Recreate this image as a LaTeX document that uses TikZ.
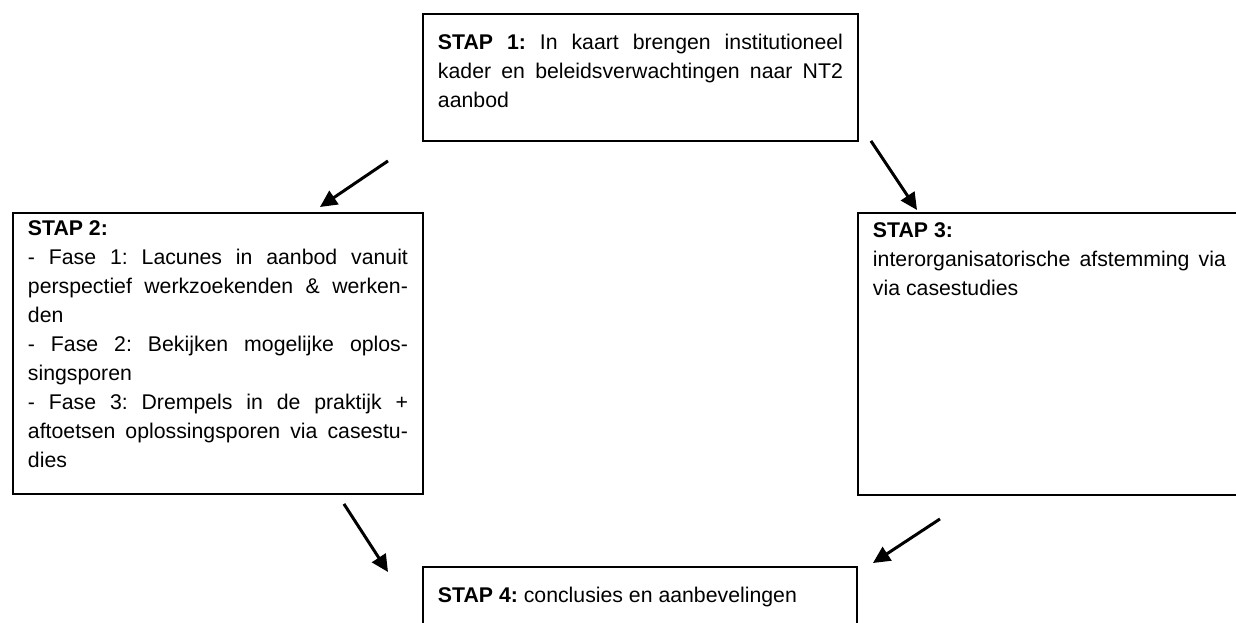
\documentclass[tikz,border=0pt]{standalone}
\usepackage{fontspec}
\setmainfont{Liberation Sans}
\usetikzlibrary{arrows.meta}
\newcommand{\stapfont}{\fontsize{12.1pt}{16.5pt}\selectfont\frenchspacing}
\hyphenpenalty=10000
\hbadness=10000

\begin{document}
\begin{tikzpicture}[>={Triangle[length=0.34cm,width=0.32cm]},
		stap/.style={draw, line width=1.1pt, anchor=north west, align=justify,
			inner xsep=0.3cm, inner ysep=0pt, font=\stapfont}]
			\useasboundingbox (0,0) rectangle (24.72,-12.44);
			\clip (0,0) rectangle (24.72,-12.44);
			\node[stap, text width=8.10cm, text height=0.72cm, text depth=1.82cm] (stap1) at (8.44,-0.26)
			{\textbf{STAP 1:} In kaart brengen institutioneel\linebreak kader en beleidsverwachtingen naar NT2\linebreak aanbod};
			\node[stap, text width=7.60cm, text height=0.46cm, text depth=5.16cm] (stap2) at (0.24,-4.24)
			{\textbf{STAP 2:}\\
			- Fase 1: Lacunes in aanbod vanuit\linebreak perspectief werkzoekenden \& werken-\linebreak den\\
			- Fase 2: Bekijken mogelijke oplos-\linebreak singsporen\\
			- Fase 3: Drempels in de praktijk +\linebreak aftoetsen oplossingsporen via casestu-\linebreak dies};
			\node[stap, text width=7.06cm, text height=0.50cm, text depth=5.14cm] (stap3) at (17.14,-4.24)
			{\textbf{STAP 3:}\\ interorganisatorische afstemming via\linebreak via casestudies};
			\node[stap, text width=8.08cm, text height=0.72cm, text depth=1.00cm] (stap4) at (8.44,-11.32)
			{\textbf{STAP 4:} conclusies en aanbevelingen};
			
			\draw[->,line width=1.7pt]
			([shift={(-0.68,-0.38)}]stap1.south west) -- ([shift={(-2.08,0.10)}]stap2.north east);
			\draw[->,line width=1.7pt]
			([shift={(0.24,0.02)}]stap1.south east) -- ([shift={(1.20,0.04)}]stap3.north west);
			\draw[->,line width=1.7pt]
			([shift={(-1.60,-0.18)}]stap2.south east) -- ([shift={(-0.68,-0.12)}]stap4.north west);
			\draw[->,line width=1.7pt]
			([shift={(1.66,-0.46)}]stap3.south west) -- ([shift={(0.30,0.06)}]stap4.north east);
		
		\end{tikzpicture}
\end{document}
